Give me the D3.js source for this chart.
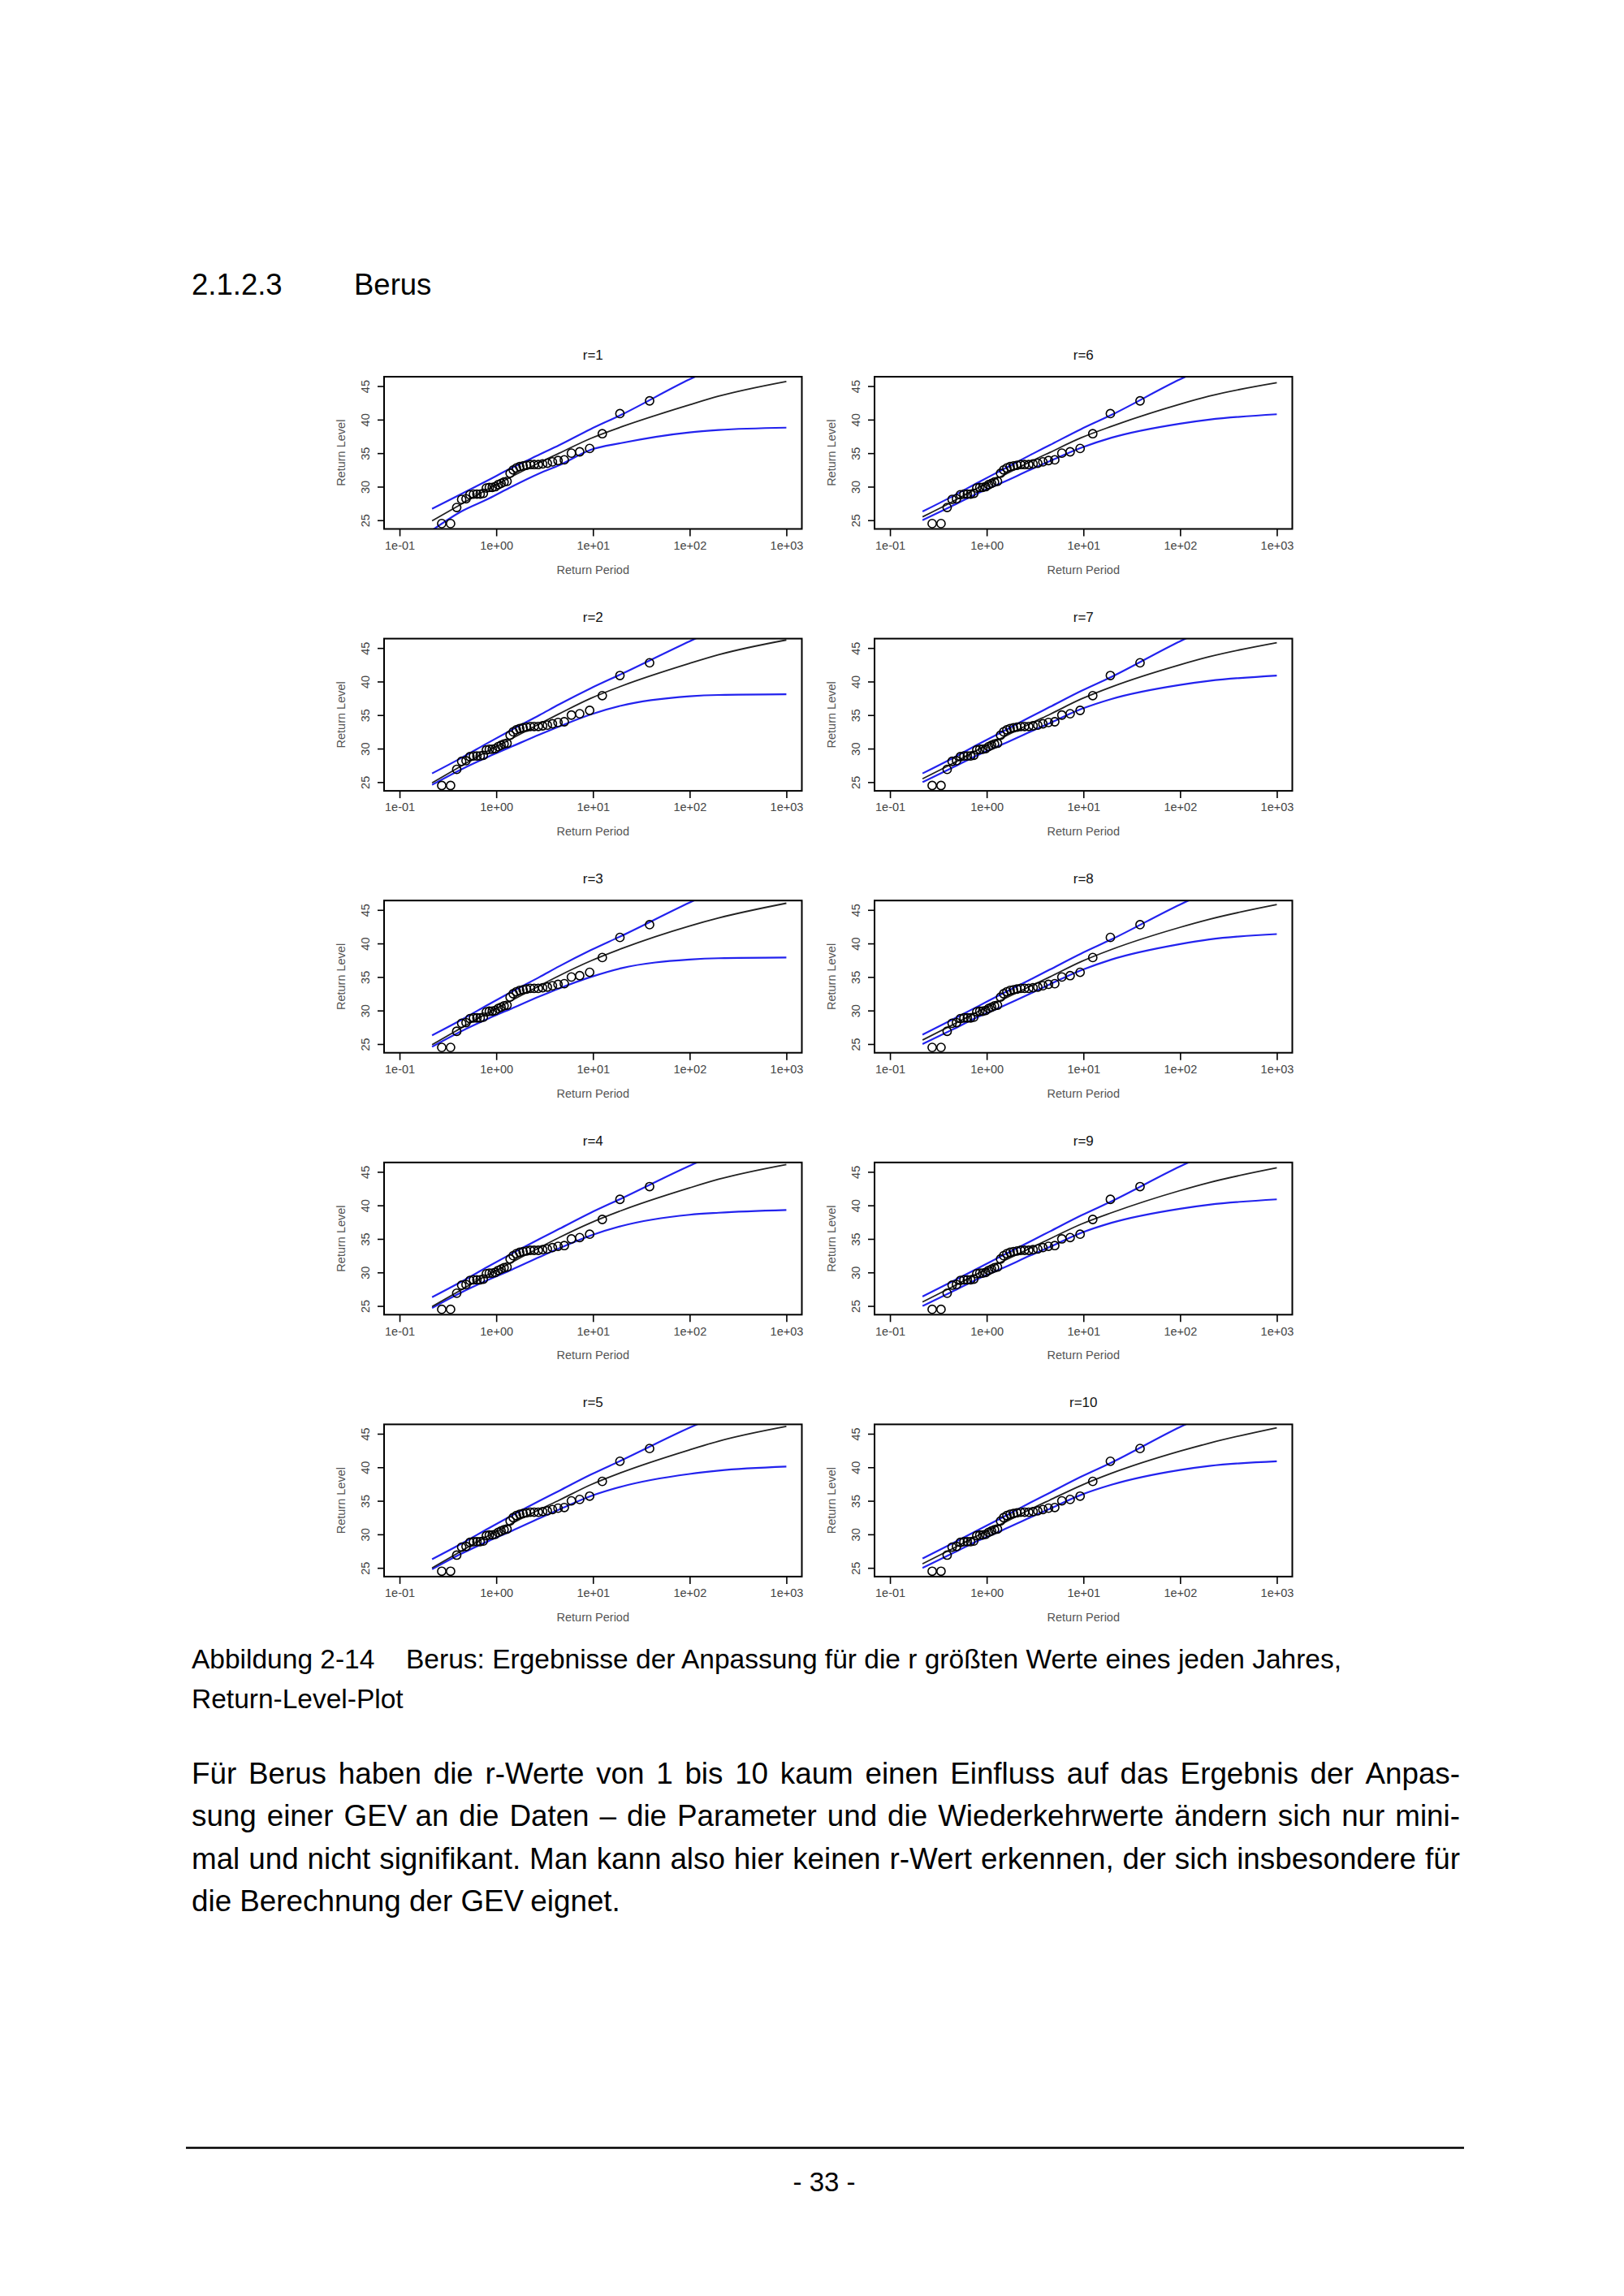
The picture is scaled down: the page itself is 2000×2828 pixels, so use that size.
<!DOCTYPE html>
<html><head><meta charset="utf-8">
<script src="https://cdn.jsdelivr.net/npm/d3@7"></script>
<style>
body{margin:0;background:#fff;}
svg{display:block;}
</style></head><body>
<svg id="page" width="2000" height="2828"></svg>
<script>
// ---------------- data ----------------
const panelLabels = ["r=1","r=2","r=3","r=4","r=5","r=6","r=7","r=8","r=9","r=10"];
const xTickValues = [0.1, 1, 10, 100, 1000];
const xTickLabels = ["1e-01","1e+00","1e+01","1e+02","1e+03"];
const yTickValues = [25, 30, 35, 40, 45];
const xTitle = "Return Period";
const yTitle = "Return Level";

// empirical points (return period, level) – identical in all panels
const pointPeriods = [0.273,0.337,0.390,0.439,0.487,0.534,0.582,0.631,0.682,0.735,0.790,0.848,0.910,0.976,1.047,1.122,1.204,1.293,1.391,1.497,1.616,1.747,1.894,2.060,2.249,2.466,2.720,3.018,3.375,3.811,4.355,5.055,5.984,7.289,9.241,12.49,19.00,38.50];
const pointLevels  = [24.5,24.5,26.9,28.1,28.2,28.8,28.9,28.9,28.9,29.0,29.8,29.9,29.9,30.0,30.3,30.5,30.7,30.8,32.0,32.5,32.8,33.0,33.1,33.2,33.3,33.3,33.3,33.4,33.5,33.7,33.9,34.0,35.0,35.2,35.7,37.9,40.9,42.8];

// return periods at which the fitted curves are read
const curvePeriods = [0.217,0.434,0.831,1.443,2.804,4.481,9.491,19.5,99.5,199.5,999.5];

const fitLevels = [
  [24.9,27.4,29.7,31.5,33.6,35.0,37.2,38.9,42.2,43.5,45.7],
  [24.9,27.4,29.7,31.5,33.7,35.2,37.5,39.3,42.7,44.0,46.2],
  [24.9,27.4,29.7,31.5,33.7,35.2,37.4,39.2,42.6,43.8,46.0],
  [24.9,27.4,29.7,31.5,33.7,35.2,37.4,39.2,42.6,43.9,46.1],
  [25.0,27.5,29.8,31.6,33.7,35.1,37.4,39.2,42.6,43.9,46.1],
  [25.5,27.7,29.9,31.6,33.7,35.1,37.3,39.0,42.3,43.5,45.5],
  [25.5,27.7,29.9,31.6,33.7,35.1,37.4,39.2,42.5,43.7,45.8],
  [25.6,27.8,29.9,31.6,33.6,35.0,37.3,39.1,42.4,43.6,45.8],
  [25.6,27.8,29.9,31.6,33.6,35.0,37.2,38.9,42.2,43.4,45.6],
  [25.6,27.8,29.9,31.6,33.7,35.1,37.3,39.1,42.4,43.6,45.9]
];
const upperLevels = [
  [26.7,28.9,31.0,32.8,34.8,36.2,38.6,40.7,46.0,48.0,52.5],
  [26.3,28.6,30.9,32.8,35.0,36.6,39.0,41.1,46.0,48.0,52.6],
  [26.3,28.6,30.9,32.8,35.0,36.6,39.0,41.1,46.1,48.1,52.8],
  [26.3,28.6,30.9,32.8,35.0,36.5,38.9,41.0,45.9,47.8,52.3],
  [26.3,28.6,30.9,32.8,35.0,36.5,38.9,41.0,45.9,47.8,52.3],
  [26.3,28.5,30.7,32.5,34.7,36.2,38.6,40.7,46.0,48.0,52.5],
  [26.3,28.5,30.7,32.5,34.7,36.2,38.6,40.7,46.0,48.0,52.5],
  [26.4,28.6,30.7,32.5,34.6,36.1,38.5,40.6,45.8,47.8,52.2],
  [26.4,28.6,30.7,32.5,34.6,36.1,38.5,40.6,45.8,47.8,52.2],
  [26.4,28.6,30.7,32.5,34.7,36.2,38.6,40.7,46.0,48.0,52.4]
];
const lowerLevels = [
  [23.5,26.3,28.2,30.0,32.0,33.2,35.5,36.5,38.1,38.45,38.8],
  [24.6,26.9,28.8,30.3,32.1,33.3,35.1,36.4,37.8,38.0,38.1],
  [24.6,26.9,28.8,30.3,32.1,33.3,35.0,36.3,37.6,37.8,37.9],
  [24.7,27.0,28.9,30.4,32.3,33.6,35.5,36.9,38.6,38.9,39.3],
  [24.8,27.1,29.0,30.5,32.4,33.7,35.7,37.1,39.0,39.5,40.1],
  [25.0,27.1,29.1,30.6,32.5,33.8,35.8,37.3,39.4,40.0,40.8],
  [25.0,27.1,29.1,30.6,32.5,33.8,35.9,37.4,39.5,40.1,40.9],
  [25.0,27.1,29.1,30.6,32.5,33.9,36.0,37.6,39.9,40.6,41.4],
  [25.0,27.1,29.1,30.6,32.5,33.8,35.9,37.4,39.5,40.1,40.9],
  [25.0,27.1,29.1,30.6,32.5,33.8,35.9,37.4,39.6,40.2,40.9]
];

// page texts
const headingNumber = "2.1.2.3";
const headingTitle = "Berus";
const captionLabel = "Abbildung 2-14";
const captionLine1 = "Berus: Ergebnisse der Anpassung für die r größten Werte eines jeden Jahres,";
const captionLine2 = "Return-Level-Plot";
const bodyLines = [
  "Für Berus haben die r-Werte von 1 bis 10 kaum einen Einfluss auf das Ergebnis der Anpas-",
  "sung einer GEV an die Daten – die Parameter und die Wiederkehrwerte ändern sich nur mini-",
  "mal und nicht signifikant. Man kann also hier keinen r-Wert erkennen, der sich insbesondere für",
  "die Berechnung der GEV eignet."
];
const pageNumber = "- 33 -";

// ---------------- drawing ----------------
const FONT = "'Liberation Sans', Arial, Helvetica, sans-serif";
const svg = d3.select("#page");
svg.append("rect").attr("width",2000).attr("height",2828).attr("fill","#fff");

// heading
svg.append("text").attr("x",236).attr("y",363).attr("font-family",FONT).attr("font-size",36.5).attr("fill","#000").text(headingNumber);
svg.append("text").attr("x",436).attr("y",363).attr("font-family",FONT).attr("font-size",36.5).attr("fill","#000").text(headingTitle);

// panels
const colX = [473, 1077];
const rowY0 = 464, rowStep = 322.6;
const W = 514.5, H = 187.5;
const x = d3.scaleLog().domain([Math.pow(10,-1.16), Math.pow(10,3.16)]).range([0, W]);
const y = d3.scaleLinear().domain([23.7, 46.4]).range([H, 0]);

panelLabels.forEach((lab, i) => {
  const col = Math.floor(i / 5), row = i % 5;
  const g = svg.append("g").attr("transform", `translate(${colX[col]},${rowY0 + row*rowStep})`);
  const clipId = "clip" + i;
  g.append("clipPath").attr("id", clipId).append("rect").attr("x",0).attr("y",0).attr("width",W).attr("height",H);

  // title
  g.append("text").attr("x", W/2).attr("y", -21).attr("text-anchor","middle")
    .attr("font-family",FONT).attr("font-size",17).attr("fill","#111").text(lab);

  // axes
  const xAxis = d3.axisBottom(x).tickValues(xTickValues).tickFormat((d,j)=>xTickLabels[j]).tickSize(9).tickPadding(6);
  const gx = g.append("g").attr("transform",`translate(0,${H})`).call(xAxis);
  gx.select(".domain").remove();
  gx.selectAll("line").attr("stroke","#000").attr("stroke-width",1.6);
  gx.selectAll("text").attr("font-family",FONT).attr("font-size",14.5).attr("fill","#444").attr("dy","0.71em");

  const yAxis = d3.axisLeft(y).tickValues(yTickValues).tickSize(8).tickPadding(0);
  const gy = g.append("g").call(yAxis);
  gy.select(".domain").remove();
  gy.selectAll("line").attr("stroke","#000").attr("stroke-width",1.6);
  gy.selectAll("text").attr("font-family",FONT).attr("font-size",14.5).attr("fill","#444")
    .attr("x",null).attr("dy",null).attr("text-anchor","middle")
    .attr("transform","translate(-23,0) rotate(-90)").attr("dominant-baseline","central");

  g.append("text").attr("transform",`translate(-53,${H/2}) rotate(-90)`).attr("text-anchor","middle")
    .attr("dominant-baseline","central").attr("font-family",FONT).attr("font-size",14.5).attr("fill","#555").text(yTitle);
  g.append("text").attr("x", x(Math.pow(10,1))).attr("y", H + 50).attr("text-anchor","middle")
    .attr("dominant-baseline","central").attr("font-family",FONT).attr("font-size",14.5).attr("fill","#555").text(xTitle);

  // curves
  const line = d3.line().x(d=>x(d[0])).y(d=>y(d[1])).curve(d3.curveMonotoneX);
  const plot = g.append("g").attr("clip-path",`url(#${clipId})`);
  const mk = arr => curvePeriods.map((p,k)=>[p, arr[k]]);
  plot.append("path").attr("d", line(mk(upperLevels[i]))).attr("fill","none").attr("stroke","#2222ee").attr("stroke-width",2.2);
  plot.append("path").attr("d", line(mk(lowerLevels[i]))).attr("fill","none").attr("stroke","#2222ee").attr("stroke-width",2.2);
  plot.append("path").attr("d", line(mk(fitLevels[i]))).attr("fill","none").attr("stroke","#222").attr("stroke-width",1.8);

  plot.selectAll("circle").data(pointPeriods.map((p,k)=>[p, pointLevels[k]])).join("circle")
    .attr("cx", d=>x(d[0])).attr("cy", d=>y(d[1])).attr("r",5.1)
    .attr("fill","none").attr("stroke","#000").attr("stroke-width",1.6);

  // box
  g.append("rect").attr("x",0).attr("y",0).attr("width",W).attr("height",H)
    .attr("fill","none").attr("stroke","#000").attr("stroke-width",2);
});

// caption
svg.append("text").attr("x",236).attr("y",2055).attr("font-family",FONT).attr("font-size",33.5).text(captionLabel);
svg.append("text").attr("x",500).attr("y",2055).attr("font-family",FONT).attr("font-size",33.5).text(captionLine1);
svg.append("text").attr("x",236).attr("y",2104).attr("font-family",FONT).attr("font-size",33.5).text(captionLine2);

// body text (justified lines)
const bodyX0 = 236, bodyX1 = 1798, bodyBase = 2197, bodyStep = 52.4, bodyFS = 36.8;
bodyLines.forEach((ln, li) => {
  const words = ln.split(" ");
  const t = svg.append("text").attr("y", bodyBase + li*bodyStep).attr("font-family",FONT).attr("font-size",bodyFS).attr("fill","#000");
  const spans = words.map(w => t.append("tspan").text(w));
  const widths = spans.map(s => s.node().getComputedTextLength());
  const total = d3.sum(widths);
  const justify = li < bodyLines.length - 1;
  const sp = t.append("tspan").text("a b"); const spaceW = sp.node().getComputedTextLength(); sp.remove();
  const tmp = t.append("tspan").text("ab"); const abW = tmp.node().getComputedTextLength(); tmp.remove();
  const natural = spaceW - abW;
  const gap = justify ? (bodyX1 - bodyX0 - total) / (words.length - 1) : natural;
  let cx = bodyX0;
  spans.forEach((s, k) => { s.attr("x", cx); cx += widths[k] + gap; });
});

// footer
svg.append("line").attr("x1",229).attr("x2",1803).attr("y1",2645.5).attr("y2",2645.5).attr("stroke","#000").attr("stroke-width",2.5);
svg.append("text").attr("x",1015).attr("y",2699).attr("text-anchor","middle").attr("font-family",FONT).attr("font-size",33).text(pageNumber);
</script></body></html>
